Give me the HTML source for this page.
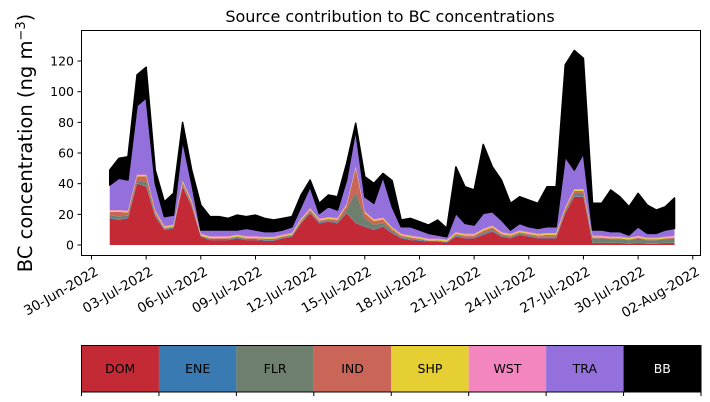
<!DOCTYPE html>
<html><head><meta charset="utf-8"><style>
body{margin:0;background:#fff;}
svg{display:block;font-family:"DejaVu Sans","Liberation Sans",sans-serif;}
</style></head><body>
<svg id="chart" width="710" height="402" viewBox="0 0 710 402">
<text x="390" y="22" font-size="16" text-anchor="middle">Source contribution to BC concentrations</text>
<g id="areas"></g>
<rect x="81.5" y="30.5" width="619" height="225" fill="none" stroke="#000" stroke-width="1"/>
<g id="yaxis"></g>
<g id="xaxis"></g>
<text transform="translate(32,143) rotate(-90)" font-size="19.5" text-anchor="middle">BC concentration (ng m<tspan font-size="13" dy="-7">−3</tspan><tspan dy="7">)</tspan></text>
<g id="cbar"></g>
</svg>
<script>
const sources=["DOM","ENE","FLR","IND","SHP","WST","TRA","BB"];
const colors=["#c42a36","#3a7ab3","#6e7f6e","#c96657","#e6cf33","#f385bf","#9370db","#000000"];
const startDay=1.0, stepDay=0.5;
const DOM=[17.4,16.3,17.4,40,38,18.5,9.8,10.8,38,25,5.4,3.2,3.2,3.2,4.3,3.2,3.2,2.8,2.8,4.3,5.4,14.1,20.6,14.1,15.2,14.1,20.6,14.1,11.9,9.8,11.9,7.6,4.3,3.2,2.8,2.2,2.2,1.5,5.4,4.3,4.3,6.5,8.7,5.4,4.3,6.5,5.4,4.3,4.3,4.3,20.6,31.5,31.5,1,1,1,1,0.8,1,0.8,0.8,1,1];
const ENE=[0.4,0.4,0.4,0.4,0.4,0.4,0.4,0.4,0.4,0.4,0.4,0.4,0.4,0.4,0.4,0.4,0.4,0.4,0.4,0.4,0.4,0.4,0.4,0.4,0.4,0.4,0.4,0.4,0.4,0.4,0.4,0.4,0.4,0.4,0.4,0.4,0.4,0.4,0.4,0.4,0.4,0.4,0.4,0.4,0.4,0.4,0.4,0.4,0.4,0.4,0.4,0.4,0.4,0.4,0.4,0.4,0.4,0.4,0.4,0.4,0.4,0.4,0.4];
const FLR=[1.5,2,1.4,1.8,2.6,1,0.4,0.4,1,1,0.2,0.4,0.4,0.4,0.4,0.4,0.4,0.4,0.4,0.4,0.4,0.6,0.8,0.6,0.6,0.8,1.8,20,5,3,2,1.2,0.6,0.6,0.4,0.2,0.2,0.2,0.6,0.6,0.6,1,1,0.6,0.6,0.6,0.6,0.6,0.8,0.8,1,1.4,1.4,2.9,2.9,2.4,2.4,1.9,2.9,1.9,1.9,2.4,2.9];
const IND=[2.3,2.9,2,2.6,3.8,1.4,0.5,0.5,1.4,1.4,0.2,0.5,0.5,0.5,0.5,0.5,0.5,0.5,0.5,0.5,0.5,0.8,1.1,0.8,0.8,1.1,2.6,15.4,3.4,2.4,2.4,1.2,0.8,0.8,0.5,0.2,0.2,0.2,0.8,0.8,0.8,1.4,1.4,0.8,0.8,0.8,0.8,0.8,1.1,1.1,1.4,2,2,0.5,0.5,0.5,0.5,0.5,0.5,0.5,0.5,0.5,0.5];
const SHP=[0.7,0.7,0.7,0.7,0.7,0.7,0.7,0.7,0.7,0.7,0.7,0.7,0.7,0.7,0.7,0.7,0.7,0.7,0.7,0.7,0.7,0.7,0.7,0.7,0.7,0.7,0.7,0.7,0.7,0.7,0.7,0.7,0.7,0.7,0.7,0.7,0.7,0.7,0.7,0.7,0.7,0.7,0.7,0.7,0.7,0.7,0.7,0.7,0.7,0.7,0.7,0.7,0.7,0.7,0.7,0.7,0.7,0.7,0.7,0.7,0.7,0.7,0.7];
const WST=[0.5,0.5,0.5,0.5,0.5,0.5,0.5,0.5,0.5,0.5,0.5,0.5,0.5,0.5,0.5,0.5,0.5,0.5,0.5,0.5,0.5,0.5,0.5,0.5,0.5,0.5,0.5,0.5,0.5,0.5,0.5,0.5,0.5,0.5,0.5,0.5,0.5,0.5,0.5,0.5,0.5,0.5,0.5,0.5,0.5,0.5,0.5,0.5,0.5,0.5,0.5,0.5,0.5,0.5,0.5,0.5,0.5,0.5,0.5,0.5,0.5,0.5,0.5];
const TRA=[16.3,20.7,20,45,50,17.7,6.2,6.2,26.5,11.2,2.4,4.1,4.1,4.1,3,5.1,4.1,3.4,3.4,3,4,7.9,13.9,3.5,6.8,5.2,15.8,24,9.6,10.4,26.6,13.4,4.6,5.7,4.5,3.4,2.3,1.9,12.2,6.8,5.7,10.1,9,7.9,2.5,4.6,3.5,3.5,4.1,4.1,33,12.4,23.3,3.8,3.8,3.2,3.2,1.7,5.9,2.8,2.8,4.3,4.8];
const BB=[9.8,13,15.2,20,20,8.7,9.7,14.2,11.5,8.7,16.3,8.7,8.7,7.6,9.7,7.7,9.7,8.7,7.6,7.6,6.6,7.6,4.4,6.6,7.6,8.7,10.8,4.3,13,13,2.2,17,4.4,5.5,5.4,5.4,9.8,5.6,30.4,23.9,22.9,45,29.3,26.1,17.4,17.4,17.4,16.4,26.1,26.1,60,78,62,17.4,17.4,27.2,22.8,18.5,21.8,18.5,15.2,15.2,19.9];
const yTicks=[0,20,40,60,80,100,120];
const xTickDays=[0,3,6,9,12,15,18,21,24,27,30,33];
const xTickLabels=["30-Jun-2022","03-Jul-2022","06-Jul-2022","09-Jul-2022","12-Jul-2022","15-Jul-2022","18-Jul-2022","21-Jul-2022","24-Jul-2022","27-Jul-2022","30-Jul-2022","02-Aug-2022"];

const NS="http://www.w3.org/2000/svg";
const xS=d=>91.5+18.22*d;
const yS=v=>245-v*1.533;
const series=[DOM,ENE,FLR,IND,SHP,WST,TRA,BB];
const n=DOM.length;
const base=new Array(n).fill(0);
const areas=document.getElementById('areas');
series.forEach((s,k)=>{
  const top=base.map((b,i)=>b+s[i]);
  let d="";
  for(let i=0;i<n;i++){d+=(i?"L":"M")+xS(startDay+i*stepDay).toFixed(2)+","+yS(top[i]).toFixed(2);}
  for(let i=n-1;i>=0;i--){d+="L"+xS(startDay+i*stepDay).toFixed(2)+","+yS(base[i]).toFixed(2);}
  d+="Z";
  const p=document.createElementNS(NS,'path');
  p.setAttribute('d',d);p.setAttribute('fill',colors[k]);
  if(k===7){p.setAttribute('stroke','#000');p.setAttribute('stroke-width','1.5');p.setAttribute('stroke-linejoin','round');}
  
  
  areas.appendChild(p);
  for(let i=0;i<n;i++)base[i]=top[i];
});
const ya=document.getElementById('yaxis');
yTicks.forEach(v=>{
  const l=document.createElementNS(NS,'line');
  l.setAttribute('x1',77.5);l.setAttribute('x2',81.5);l.setAttribute('y1',yS(v));l.setAttribute('y2',yS(v));l.setAttribute('stroke','#000');
  
  
  ya.appendChild(l);
  const t=document.createElementNS(NS,'text');
  t.setAttribute('x',74);t.setAttribute('y',yS(v)+4.5);t.setAttribute('font-size','12.5');t.setAttribute('text-anchor','end');
  t.textContent=v;
  
  
  ya.appendChild(t);
});
const xa=document.getElementById('xaxis');
xTickDays.forEach((d,i)=>{
  const x=xS(d);
  const l=document.createElementNS(NS,'line');
  l.setAttribute('x1',x);l.setAttribute('x2',x);l.setAttribute('y1',255.5);l.setAttribute('y2',259.5);l.setAttribute('stroke','#000');
  
  
  xa.appendChild(l);
  const t=document.createElementNS(NS,'text');
  t.setAttribute('transform','translate('+(x+3)+',266) rotate(-30)');
  t.setAttribute('font-size','13.5');t.setAttribute('text-anchor','end');t.setAttribute('dy','0.7em');
  t.textContent=xTickLabels[i];
  
  
  xa.appendChild(t);
});
const cb=document.getElementById('cbar');
const cw=(701-81.5)/8;
sources.forEach((s,k)=>{
  const r=document.createElementNS(NS,'rect');
  r.setAttribute('x',81.5+k*cw);r.setAttribute('y',345.5);r.setAttribute('width',cw);r.setAttribute('height',46.5);r.setAttribute('fill',colors[k]);
  
  
  cb.appendChild(r);
  const t=document.createElementNS(NS,'text');
  t.setAttribute('x',81.5+(k+0.5)*cw);t.setAttribute('y',373);t.setAttribute('font-size','12.5');t.setAttribute('text-anchor','middle');
  t.setAttribute('fill',k===7?'#fff':'#000');
  t.textContent=s;
  
  
  cb.appendChild(t);
});
for(let k=0;k<=8;k++){
  const l=document.createElementNS(NS,'line');
  const x=81.5+k*cw;
  l.setAttribute('x1',x);l.setAttribute('x2',x);l.setAttribute('y1',392);l.setAttribute('y2',396);l.setAttribute('stroke','#000');
  
  
  cb.appendChild(l);
}
const fr=document.createElementNS(NS,'rect');
fr.setAttribute('x',81.5);fr.setAttribute('y',345.5);fr.setAttribute('width',619.5);fr.setAttribute('height',46.5);fr.setAttribute('fill','none');fr.setAttribute('stroke','#000');


cb.appendChild(fr);
</script>
</body></html>
